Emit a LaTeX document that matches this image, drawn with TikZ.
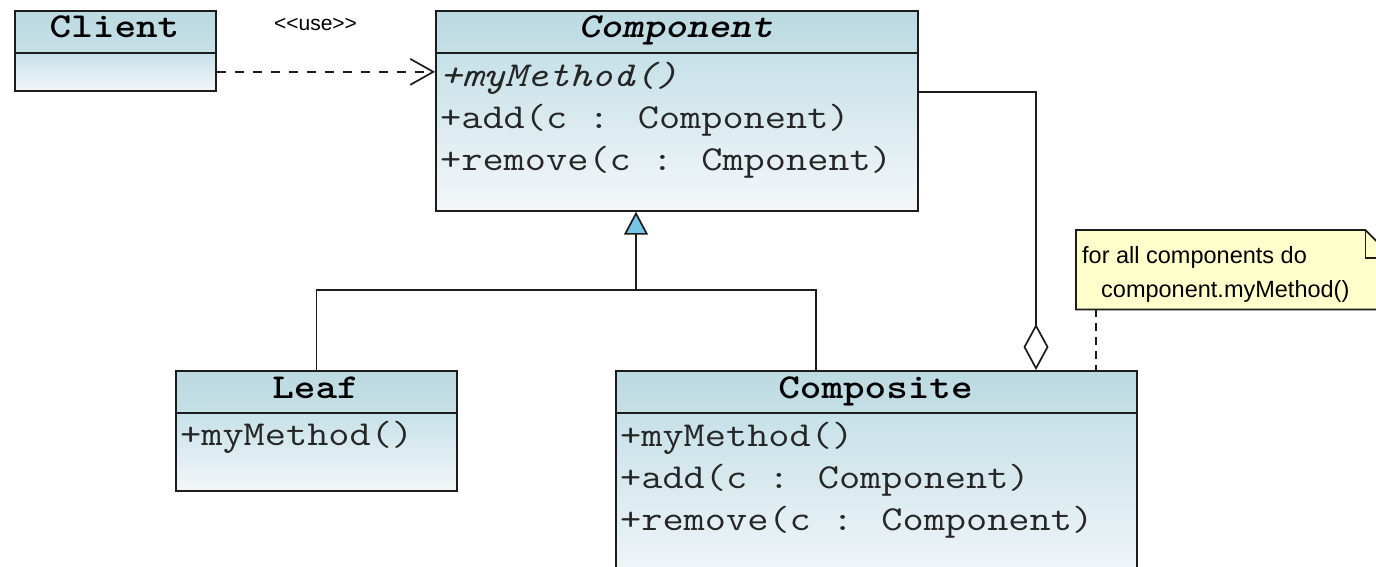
\documentclass[tikz,border=0pt]{standalone}
\usepackage{fontspec}
\usepackage{graphicx}
\setmainfont{Liberation Sans}
\usetikzlibrary{arrows.meta}

\definecolor{hdrTop}{RGB}{188,218,226}
\definecolor{hdrBot}{RGB}{197,223,230}
\definecolor{bodyTop}{RGB}{198,225,232}
\definecolor{bodyBot}{RGB}{244,247,249}
\definecolor{noteFill}{RGB}{255,255,204}
\definecolor{triFill}{RGB}{118,196,232}
\definecolor{edge}{RGB}{28,28,28}
\definecolor{ink}{RGB}{38,38,38}

% typewriter face for class texts, widened to the box text pitch
\newcommand{\codeface}{\ttfamily\fontsize{35}{35}\selectfont}
\newcommand{\wide}[1]{\scalebox{1.175}[1]{#1}}

\begin{document}
\begin{tikzpicture}[x=1pt,y=-1pt,
  box/.style={draw=edge, line width=1.7pt, rectangle, inner sep=0pt, anchor=north west},
  hdr/.style={box, top color=hdrTop, bottom color=hdrBot},
  body/.style={box, top color=bodyTop, bottom color=bodyBot},
  title/.style={font=\bfseries\codeface, text=black, anchor=base, inner sep=0pt},
  member/.style={font=\codeface, text=ink, anchor=base west, inner sep=0pt},
  stereo/.style={font=\fontsize{21}{21}\selectfont, inner sep=0pt},
  notetext/.style={font=\fontsize{23.5}{23.5}\selectfont, anchor=base west, inner sep=0pt},
  link/.style={draw=edge, line width=1.7pt},
  dep/.style={link, dash pattern=on 9pt off 9pt, -{Straight Barb[length=23pt,width=26pt]}},
  noteLink/.style={draw=edge, line width=1.5pt, dash pattern=on 8pt off 6pt},
]
\useasboundingbox (0,0) rectangle (1376,566);
\fill[white] (0,0) rectangle (1376,566);

% Client
\node[hdr, minimum width=201pt, minimum height=42pt] (clientH) at (14,10) {};
\node[body, minimum width=201pt, minimum height=38pt] (clientB) at (14,52) {};
\node[title] (clientT) at (114.5,37) {\wide{Client}};

% Component (abstract)
\node[hdr, minimum width=482pt, minimum height=42pt] (compH) at (435,10) {};
\node[body, minimum width=482pt, minimum height=158pt] (compB) at (435,52) {};
\node[title, font=\bfseries\itshape\codeface] (compT) at (676,37) {\wide{Component}};
\node[member, font=\itshape\codeface] (compM1) at (440,86) {\wide{+myMethod()}};
\node[member] (compM2) at (440,128) {\wide{+add(c : Component)}};
\node[member] (compM3) at (440,170) {\wide{+remove(c : Cmponent)}};

% Leaf
\node[hdr, minimum width=281pt, minimum height=42pt] (leafH) at (175,370) {};
\node[body, minimum width=281pt, minimum height=78pt] (leafB) at (175,412) {};
\node[title] (leafT) at (315.5,398) {\wide{Leaf}};
\node[member] (leafM1) at (180,445) {\wide{+myMethod()}};

% Composite
\node[hdr, minimum width=521pt, minimum height=42pt] (compoH) at (615,370) {};
\node[body, minimum width=521pt, minimum height=175pt] (compoB) at (615,412) {};
\node[title] (compoT) at (875.5,398) {\wide{Composite}};
\node[member] (compoM1) at (620,446) {\wide{+myMethod()}};
\node[member] (compoM2) at (620,488) {\wide{+add(c : Component)}};
\node[member] (compoM3) at (620,530) {\wide{+remove(c : Component)}};

% Note
\node[inner sep=0pt, minimum width=317pt, minimum height=79pt, anchor=north west] (note) at (1076,230) {};
\filldraw[fill=noteFill, draw=edge, line width=1.7pt]
  (note.south west) -- (note.north west) -- ([xshift=-28pt]note.north east)
  -- ([yshift=-28pt]note.north east) -- (note.south east) -- cycle;
\draw[draw=edge, line width=1.7pt]
  ([xshift=-28pt]note.north east) -- ([xshift=-28pt,yshift=-28pt]note.north east)
  -- ([yshift=-28pt]note.north east);
\node[notetext] (noteL1) at (1082,263) {for all components do};
\node[notetext] (noteL2) at (1101,297) {component.myMethod()};

% Dependency Client -> Component
\node[stereo] (useLbl) at (315.5,24) {<{}<use>{}>};
\draw[dep] (clientB.east) -- (clientB.east -| compB.west);

% Generalization
\coordinate (joint) at (636,290);
\coordinate (splitC) at (816,290);
\draw[link] (leafH.north) |- (splitC) -- (compoH.north -| splitC);
\draw[link, -{Triangle[length=23pt,width=24pt,fill=triFill]}] (joint) -- (joint |- compB.south);

% Aggregation Composite <>- Component
\coordinate (aggCol) at (1036,90);
\draw[link, -{Diamond[length=46pt,width=25pt,fill=white]}]
  (compB.east |- clientB.south) -| (compoH.north -| aggCol);

% Note anchor line
\coordinate (noteFoot) at (1096,309);
\draw[noteLink] (noteFoot) -- (noteFoot |- compoH.north);
\end{tikzpicture}
\end{document}
